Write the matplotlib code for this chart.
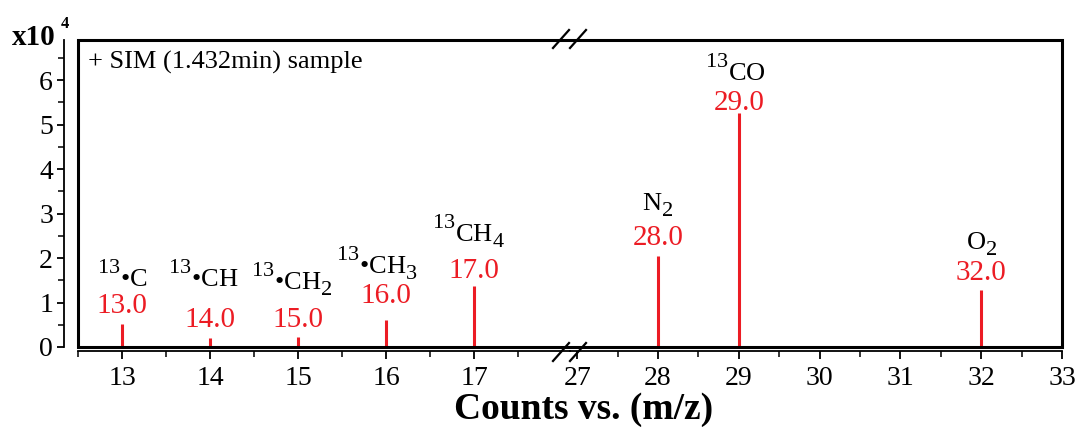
import matplotlib
matplotlib.use("Agg")
import matplotlib.pyplot as plt
from matplotlib.lines import Line2D
from matplotlib.patches import Rectangle
from matplotlib.ticker import FixedLocator
try:
    import matplotlib._mathtext as _mt
    _mt.SHRINK_FACTOR = 0.85
    _mt.FontConstantsBase.sup1 = 1.05
    _mt.FontConstantsBase.sub1 = 0.55
    _mt.FontConstantsBase.subdrop = 0.75
except Exception:
    pass

plt.rcParams['font.family'] = ['Liberation Serif', 'DejaVu Serif']
plt.rcParams['mathtext.fontset'] = 'custom'
plt.rcParams['mathtext.rm'] = 'Liberation Serif'
plt.rcParams['mathtext.it'] = 'Liberation Serif:italic'
plt.rcParams['mathtext.bf'] = 'Liberation Serif:bold'

# ---- data (counts in units of 1e4) ----
mz_left = [13.0, 14.0, 15.0, 16.0, 17.0]
counts_left = [0.52, 0.20, 0.22, 0.61, 1.36]
species_left = [r'$^{13}$•C', r'$^{13}$•CH', r'$^{13}$•CH$_2$', r'$^{13}$•CH$_3$', r'$^{13}$CH$_4$']

mz_right = [28.0, 29.0, 32.0]
counts_right = [2.05, 5.27, 1.27]
species_right = [r'N$_2$', r'$^{13}$CO', r'O$_2$']

xticks_left = [13, 14, 15, 16, 17]
xticks_right = [27, 28, 29, 30, 31, 32, 33]
yticks = [0, 1, 2, 3, 4, 5, 6]

# ---- layout (pixel-based) ----
W, H = 1080, 428
RED = '#ec1c24'
fx = lambda p: p / W
fy = lambda p: 1 - p / H
L, R, T, B = fx(78), fx(1062), fy(40), fy(347)
XB = fx(570)

fig = plt.figure(figsize=(W / 100, H / 100), dpi=100)
ax1 = fig.add_axes([L, B, XB - L, T - B])
ax2 = fig.add_axes([XB, B, R - XB, T - B], sharey=ax1)

YMAX = 6.9
ax1.set_ylim(0, YMAX)
ax1.set_xlim(12.5, 18.09)
ax2.set_xlim(26.91, 33.0)

for ax in (ax1, ax2):
    ax.patch.set_visible(False)
    for s in ('top', 'right', 'left'):
        ax.spines[s].set_visible(False)
    ax.spines['bottom'].set_position(('outward', 3))
    ax.spines['bottom'].set_linewidth(1.3)
    ax.tick_params(axis='x', which='major', direction='out', length=6, width=1.3,
                   labelsize=20, pad=5)
    ax.tick_params(axis='x', which='minor', direction='out', length=4, width=1.1)

ax1.spines['left'].set_visible(True)
ax1.spines['left'].set_position(('outward', 10))
ax1.spines['left'].set_bounds(0, YMAX)
ax1.spines['left'].set_linewidth(1.3)
ax1.yaxis.set_major_locator(FixedLocator(yticks))
ax1.yaxis.set_minor_locator(FixedLocator([v + 0.5 for v in yticks]))
ax1.tick_params(axis='y', which='major', direction='out', length=5, width=1.3,
                labelsize=20, pad=3)
ax1.tick_params(axis='y', which='minor', direction='out', length=4, width=1.1)
ax2.tick_params(axis='y', which='both', left=False, labelleft=False)

ax1.xaxis.set_major_locator(FixedLocator(xticks_left))
ax1.xaxis.set_minor_locator(FixedLocator([v - 0.5 for v in xticks_left] + [xticks_left[-1] + 0.5]))
ax2.xaxis.set_major_locator(FixedLocator(xticks_right))
ax2.xaxis.set_minor_locator(FixedLocator([v + 0.5 for v in xticks_right[:-1]]))

# frame
fig.add_artist(Rectangle((L, B), R - L, T - B, transform=fig.transFigure,
                         fill=False, lw=2.2, ec='black', zorder=5))

# stick spectrum
ax1.vlines(mz_left, 0, counts_left, color=RED, lw=2.2)
ax2.vlines(mz_right, 0, counts_right, color=RED, lw=2.2)

# labels: (number-baseline above bar top px, species-baseline above number-baseline px, dx px)
lab_left = [(11, 26, 0), (11, 40, -7), (10, 38, -6), (17, 29, -9), (8, 37, -6)]
lab_right = [(11, 34, 0), (3, 29, -3), (10, 31, 0)]
k = 0.72  # px -> pt
for ax, xs, ys, sp, lab in ((ax1, mz_left, counts_left, species_left, lab_left),
                            (ax2, mz_right, counts_right, species_right, lab_right)):
    for x, y, s, (g1, g2, dx) in zip(xs, ys, sp, lab):
        ax.annotate(f'{x:.1f}', (x, y), xytext=(0, g1 * k), textcoords='offset points',
                    ha='center', va='baseline', color=RED, fontsize=21, annotation_clip=False)
        ax.annotate(s, (x, y), xytext=(dx * k, (g1 + g2) * k), textcoords='offset points',
                    ha='center', va='baseline', color='black', fontsize=19, annotation_clip=False)

# break marks
def slash(xc, yc):
    fig.add_artist(Line2D([fx(xc - 8), fx(xc + 8)], [fy(yc + 9), fy(yc - 9)],
                          transform=fig.transFigure, color='black', lw=1.6, zorder=6))
for xc in (561, 578):
    slash(xc, 39)
    slash(xc, 352)

# texts
fig.text(fx(88), fy(69), '+ SIM (1.432min) sample', fontsize=19, ha='left', va='baseline')
fig.text(fx(12), fy(45), 'x10', fontsize=21, fontweight='bold', ha='left', va='baseline')
fig.text(fx(61), fy(28), '4', fontsize=12, fontweight='bold', ha='left', va='baseline')
fig.text(fx(584), fy(419), 'Counts vs. (m/z)', fontsize=27, fontweight='bold',
         ha='center', va='baseline')

fig.savefig('out.png', dpi=100)
